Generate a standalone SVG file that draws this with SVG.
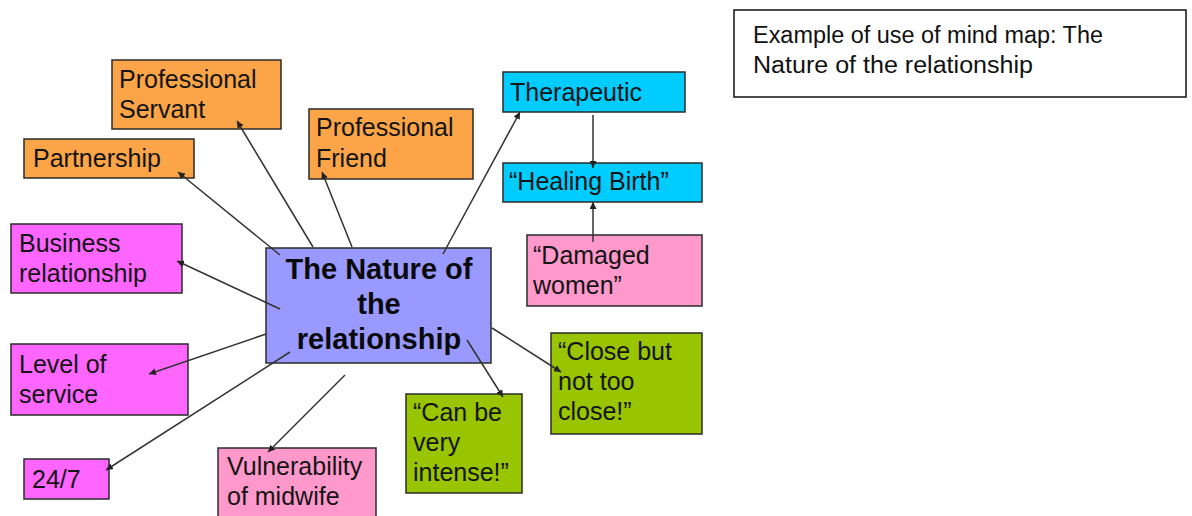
<svg xmlns="http://www.w3.org/2000/svg" width="1192" height="516" viewBox="0 0 1192 516">
<style>
.box{stroke:#2b2b2b;stroke-width:1.5}
.t{font-family:"Liberation Sans",Arial,sans-serif;font-size:25px;fill:#141414}
.main{font-family:"Liberation Sans",Arial,sans-serif;font-size:29px;font-weight:bold;fill:#0a0a0a;text-anchor:middle}
.orange{fill:#FBA548}.mag{fill:#FF66FF}.cyan{fill:#00CCFF}.pink{fill:#FF99CC}.green{fill:#99C400}.blue{fill:#9999FF}
.c line{stroke:#333;stroke-width:1.5;marker-end:url(#ah)}
.note{font-family:"Liberation Sans",Arial,sans-serif;font-size:23px;fill:#111}
</style>
<defs>
<marker id="ah" markerUnits="userSpaceOnUse" markerWidth="8" markerHeight="7" refX="7" refY="3.5" orient="auto">
<path d="M0,0 L7,3.5 L0,7 Z" fill="#222"/>
</marker>
</defs>
<rect width="1192" height="516" fill="#fff"/>

<g id="n-servant"><rect class="box orange" x="112" y="60" width="169" height="69"/><text class="t" x="119" y="88">Professional</text><text class="t" x="119" y="118">Servant</text></g>
<g id="n-partnership"><rect class="box orange" x="24" y="139" width="170" height="39"/><text class="t" x="33" y="167">Partnership</text></g>
<g id="n-friend"><rect class="box orange" x="309" y="109" width="164" height="70"/><text class="t" x="316" y="136">Professional</text><text class="t" x="316" y="167">Friend</text></g>
<g id="n-therapeutic"><rect class="box cyan" x="503" y="72" width="182" height="40"/><text class="t" x="510" y="101">Therapeutic</text></g>
<g id="n-healing"><rect class="box cyan" x="503" y="163" width="199" height="39"/><text class="t" x="509" y="190">“Healing Birth”</text></g>
<g id="n-damaged"><rect class="box pink" x="527" y="235" width="175" height="71"/><text class="t" x="533" y="264">“Damaged</text><text class="t" x="533" y="294">women”</text></g>
<g id="n-business"><rect class="box mag" x="11" y="224" width="171" height="69"/><text class="t" x="19" y="252">Business</text><text class="t" x="19" y="282">relationship</text></g>
<g id="n-level"><rect class="box mag" x="11" y="344" width="177" height="71"/><text class="t" x="19" y="373">Level of</text><text class="t" x="19" y="403">service</text></g>
<g id="n-247"><rect class="box mag" x="24" y="459" width="85" height="40"/><text class="t" x="32" y="488">24/7</text></g>
<g id="n-vulnerability"><rect class="box pink" x="218" y="448" width="158" height="74"/><text class="t" x="227" y="475">Vulnerability</text><text class="t" x="227" y="505">of midwife</text></g>
<g id="n-intense"><rect class="box green" x="406" y="394" width="116" height="99"/><text class="t" x="413" y="421">“Can be</text><text class="t" x="413" y="451">very</text><text class="t" x="413" y="481">intense!”</text></g>
<g id="n-close"><rect class="box green" x="551" y="333" width="151" height="101"/><text class="t" x="558" y="360">“Close but</text><text class="t" x="558" y="390">not too</text><text class="t" x="558" y="420">close!”</text></g>

<g id="n-main"><rect class="box blue" x="266" y="248" width="225" height="115"/><text class="main" x="379" y="279">The Nature of</text><text class="main" x="379" y="314">the</text><text class="main" x="379" y="349">relationship</text></g>

<g id="connectors" class="c">
<line x1="280" y1="255" x2="178" y2="172"/>
<line x1="313" y1="247" x2="237" y2="121"/>
<line x1="352" y1="247" x2="322" y2="172"/>
<line x1="443" y1="254" x2="520" y2="112"/>
<line x1="593" y1="115" x2="593" y2="168"/>
<line x1="593" y1="242" x2="593" y2="202"/>
<line x1="280" y1="309" x2="177" y2="261"/>
<line x1="266" y1="334" x2="149" y2="374"/>
<line x1="290" y1="352" x2="106" y2="470"/>
<line x1="345" y1="375" x2="268" y2="452"/>
<line x1="467" y1="340" x2="503" y2="397"/>
<line x1="492" y1="328" x2="561" y2="372"/>
</g>

<g id="n-note"><rect x="734" y="10" width="452" height="87" fill="#fff" stroke="#111" stroke-width="1.5"/><text class="note" x="753" y="43" textLength="350" lengthAdjust="spacingAndGlyphs">Example of use of mind map: The</text><text class="note" x="753" y="73" textLength="280" lengthAdjust="spacingAndGlyphs">Nature of the relationship</text></g>
</svg>
